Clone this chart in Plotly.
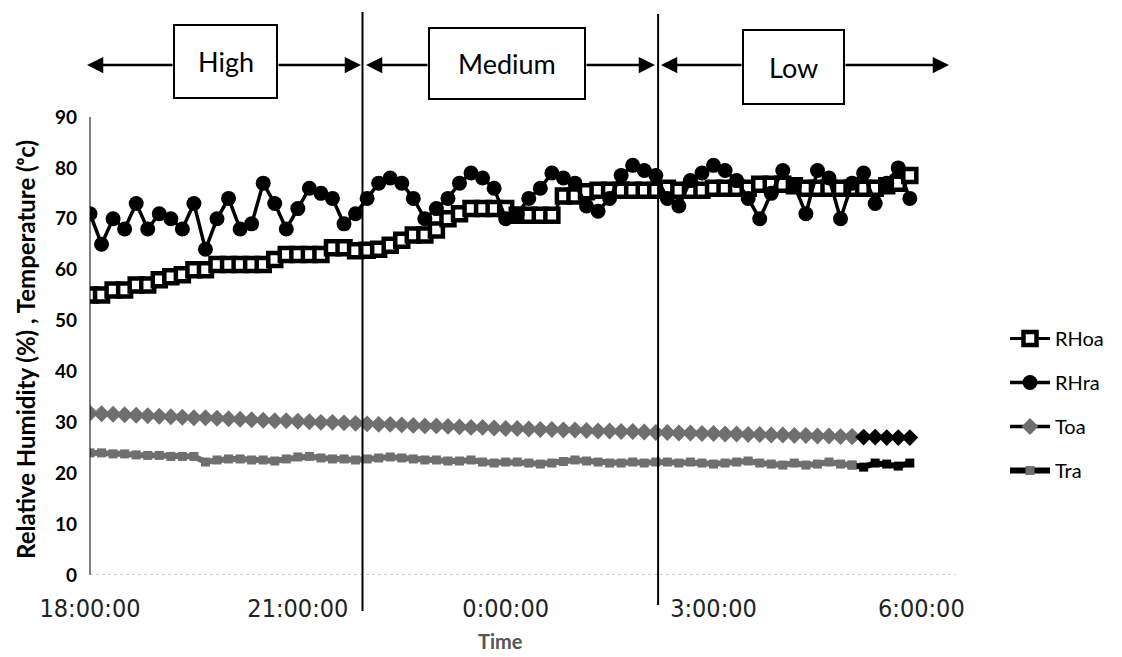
import pandas as pd
import plotly.graph_objects as go

# ---------------- data (10-minute readings, 18:00 -> 05:50) ----------------
times = pd.date_range("2020-01-01 18:00", periods=72, freq="10min")

RHoa = [55, 55, 56, 56, 57, 57, 58, 58.6, 59, 60, 60, 61, 61, 61, 61, 61, 62, 63, 63, 63,
        63, 64.3, 64.3, 63.7, 63.8, 64, 64.8, 65.8, 66.8, 66.8, 67.8, 70, 71, 72, 72, 72, 72,
        70.7, 70.7, 70.7, 70.7, 74.5, 74.5, 75.3, 75.6, 75.6, 75.6, 75.6, 75.6, 75.6, 76,
        75.6, 75.6, 75.6, 76, 76, 76, 76, 76.8, 76.8, 76.8, 76.5, 76, 76, 76, 76, 76, 76,
        76, 76.5, 77, 78.5]

RHra = [71, 65, 70, 68, 73, 68, 71, 70, 68, 73, 64, 70, 74, 68, 69, 77, 73, 68, 72, 76,
        75, 74, 69, 71, 74, 77, 78, 77, 74, 70, 72, 74, 77, 79, 78, 76, 70, 71, 74, 76,
        79, 78, 77, 72.5, 71.5, 74, 78.5, 80.5, 79.5, 78.5, 74, 72.5, 77.5, 79, 80.5, 79.5,
        77.5, 74, 70, 75, 79.5, 76.5, 71, 79.5, 78, 70, 77, 79, 73, 77, 80, 74]

Toa = [31.8, 31.7, 31.6, 31.5, 31.4, 31.3, 31.2, 31.1, 31.0, 30.9, 30.9, 30.8, 30.7, 30.6,
       30.5, 30.4, 30.3, 30.3, 30.2, 30.1, 30.0, 30.0, 29.9, 29.8, 29.7, 29.6, 29.6, 29.5,
       29.4, 29.3, 29.3, 29.2, 29.1, 29.0, 29.0, 28.9, 28.8, 28.8, 28.7, 28.6, 28.6, 28.5,
       28.5, 28.4, 28.3, 28.3, 28.2, 28.2, 28.1, 28.0, 28.0, 27.9, 27.9, 27.8, 27.8, 27.7,
       27.7, 27.6, 27.6, 27.5, 27.5, 27.4, 27.4, 27.3, 27.3, 27.2, 27.2, 27.1, 27.1, 27.0,
       27.0, 27.0]

Tra = [24, 24, 23.8, 23.8, 23.6, 23.5, 23.5, 23.3, 23.3, 23.3, 22.2, 22.6, 22.8, 22.8,
       22.6, 22.6, 22.4, 22.8, 23.2, 23.3, 23.0, 22.8, 22.8, 22.6, 22.8, 23, 23.2, 23,
       22.8, 22.6, 22.6, 22.4, 22.4, 22.6, 22.2, 22, 22.2, 22.2, 22, 21.8, 22, 22.3, 22.6,
       22.4, 22.2, 22, 22, 22.2, 22, 22.2, 22.2, 22, 22.2, 22, 21.8, 22, 22.2, 22.4, 22,
       21.8, 21.6, 22, 21.6, 21.8, 22.2, 21.8, 21.6, 21.2, 22, 21.8, 21.4, 22]

tick_vals = ["2020-01-01 18:00", "2020-01-01 21:00", "2020-01-02 00:00",
             "2020-01-02 03:00", "2020-01-02 06:00"]
tick_text = ["18:00:00", "21:00:00", "0:00:00", "3:00:00", "6:00:00"]

phase_names = ["High", "Medium", "Low"]
phase_bounds = ["2020-01-01 21:56", "2020-01-02 02:12"]

# ---------------- layout helpers (page pixel coords; page body has an 8px margin) ----------------
OFF = 8
W, H = 1122 - OFF, 657 - OFF
PLOT_L, PLOT_R, PLOT_T, PLOT_B = 90, 956, 117, 575       # page pixels of plot area
L, T = PLOT_L - OFF, PLOT_T - OFF
R, B = W - (PLOT_R - OFF), H - (PLOT_B - OFF)
PW, PH = PLOT_R - PLOT_L, PLOT_B - PLOT_T
def px(x):
    return (x - PLOT_L) / PW
def py(y):
    return (PLOT_B - y) / PH

GREY = "#6f6f6f"
split = 66  # last points drawn in black
FONT = "Lato, Open Sans, sans-serif"

fig = go.Figure()

fig.add_trace(go.Scatter(
    x=times, y=RHoa, name="RHoa", mode="lines+markers", legendgroup="a",
    line=dict(color="black", width=3),
    marker=dict(symbol="square", size=13, color="white", line=dict(color="black", width=4.5))))

fig.add_trace(go.Scatter(
    x=times, y=RHra, name="RHra", mode="lines+markers", legendgroup="b",
    line=dict(color="black", width=3.5),
    marker=dict(symbol="circle", size=15, color="black")))

fig.add_trace(go.Scatter(
    x=times[:split + 1], y=Toa[:split + 1], name="Toa", mode="lines+markers",
    legendgroup="c", showlegend=False,
    line=dict(color=GREY, width=3.5),
    marker=dict(symbol="diamond", size=13, color=GREY)))
fig.add_trace(go.Scatter(
    x=times[split:], y=Toa[split:], name="Toa", mode="lines+markers", legendgroup="c",
    line=dict(color="black", width=3.5),
    marker=dict(symbol="diamond", size=13,
                color=[GREY] + ["black"] * (len(Toa) - split - 1))))

fig.add_trace(go.Scatter(
    x=times[:split + 1], y=Tra[:split + 1], name="Tra", mode="lines+markers",
    legendgroup="d", showlegend=False,
    line=dict(color=GREY, width=6),
    marker=dict(symbol="square", size=9, color=GREY)))
fig.add_trace(go.Scatter(
    x=times[split:], y=Tra[split:], name="Tra", mode="lines+markers", legendgroup="d",
    line=dict(color="black", width=6),
    marker=dict(symbol="square", size=9,
                color=[GREY] + ["black"] * (len(Tra) - split - 1))))

shapes = []
# y axis line and dotted baseline
shapes.append(dict(type="line", xref="paper", yref="y", x0=0, x1=0, y0=0, y1=90,
                   line=dict(color="black", width=1)))
shapes.append(dict(type="line", xref="paper", yref="y", x0=0, x1=1, y0=0, y1=0,
                   line=dict(color="#9a9a9a", width=1, dash="dot")))
# phase separator lines
shapes.append(dict(type="line", xref="x", yref="paper", x0=phase_bounds[0], x1=phase_bounds[0],
                   y0=py(611), y1=py(12), line=dict(color="black", width=2)))
shapes.append(dict(type="line", xref="x", yref="paper", x0=phase_bounds[1], x1=phase_bounds[1],
                   y0=py(605), y1=py(14), line=dict(color="black", width=2)))

# phase boxes (page pixel positions)
boxes = [(174, 277, 25, 98), (429, 585, 28, 99), (743, 844, 30, 104)]
for (x0, x1, y0, y1) in boxes:
    shapes.append(dict(type="rect", xref="paper", yref="paper",
                       x0=px(x0), x1=px(x1), y0=py(y1), y1=py(y0),
                       line=dict(color="black", width=2), fillcolor="white"))

annotations = []
for name, (x0, x1, y0, y1) in zip(phase_names, boxes):
    annotations.append(dict(xref="paper", yref="paper", x=px((x0 + x1) / 2), y=py((y0 + y1) / 2),
                            xanchor="center", yanchor="middle",
                            text=name, showarrow=False,
                            font=dict(family=FONT, size=27, color="black")))

# arrows: (tip_x, tail_x)
ARROW_Y = 65
arrows = [(87, 174), (361, 277), (366, 429), (655, 585), (661, 743), (949, 844)]
for tip, tail in arrows:
    annotations.append(dict(xref="paper", yref="paper", x=px(tip), y=py(ARROW_Y),
                            ax=tail - tip, ay=0, axref="pixel", ayref="pixel",
                            text="", showarrow=True, arrowhead=2, arrowsize=1.3,
                            arrowwidth=2.5, arrowcolor="black"))

# axis titles
annotations.append(dict(xref="paper", yref="paper", x=px(25), y=py(350), textangle=-90,
                        xanchor="center", yanchor="middle",
                        text="<b>Relative Humidity (%) , Temperature (ᵒc)</b>", showarrow=False,
                        font=dict(family=FONT, size=24, color="black")))
annotations.append(dict(xref="paper", yref="paper", x=px(500), y=py(641),
                        xanchor="center", yanchor="middle",
                        text="<b>Time</b>", showarrow=False,
                        font=dict(family=FONT, size=20, color="#555555")))

fig.update_layout(
    width=W, height=H,
    margin=dict(l=L, r=R, t=T, b=B, autoexpand=False),
    paper_bgcolor="white", plot_bgcolor="white",
    shapes=shapes, annotations=annotations,
    xaxis=dict(range=["2020-01-01 18:00", "2020-01-02 06:30"], showgrid=False, zeroline=False,
               showline=False, tickvals=tick_vals, ticktext=tick_text, ticks="",
               automargin=False, ticklabelstandoff=16,
               tickfont=dict(family="DejaVu Sans Condensed, DejaVu Sans, sans-serif",
                             size=25, color="#222222")),
    yaxis=dict(range=[0, 90], dtick=10, showgrid=False, zeroline=False, showline=False,
               ticks="", ticklabelstandoff=12, automargin=False,
               tickfont=dict(family=FONT, size=19, color="black", weight="bold")),
    legend=dict(x=px(1005), y=py(319), xanchor="left", yanchor="top",
                traceorder="grouped", tracegroupgap=15, itemwidth=40,
                font=dict(family=FONT, size=20, color="black"),
                bgcolor="rgba(0,0,0,0)"),
    showlegend=True,
)

fig.write_html("out.html")
